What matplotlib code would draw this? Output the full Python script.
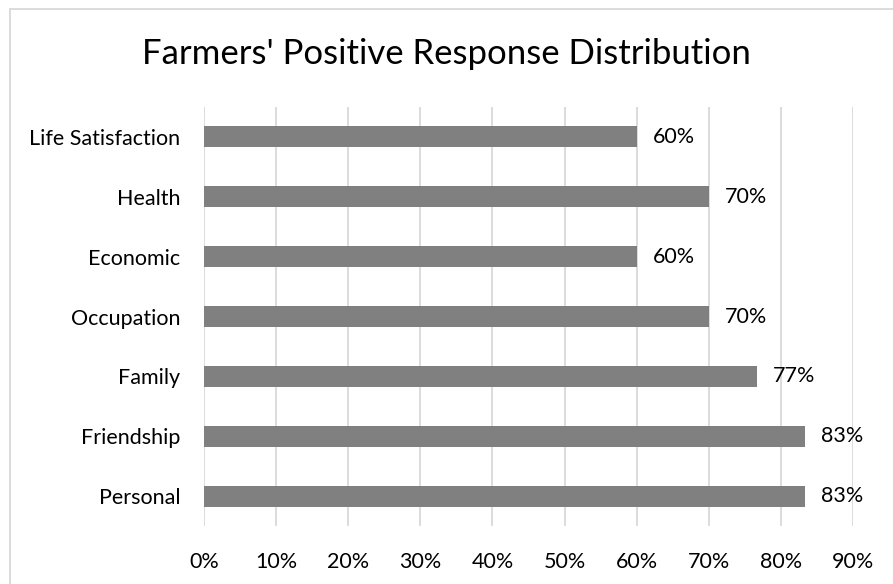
import numpy as np
import matplotlib.pyplot as plt
from matplotlib.patches import Rectangle
from matplotlib.ticker import FuncFormatter

categories = ['Personal', 'Friendship', 'Family', 'Occupation', 'Economic', 'Health', 'Life Satisfaction']
values = [83.3, 83.3, 76.7, 70.0, 60.0, 70.0, 60.0]
labels = ['83%', '83%', '77%', '70%', '60%', '70%', '60%']
xticks = np.arange(0, 91, 10)

plt.rcParams['font.family'] = ['Lato', 'DejaVu Sans']

fig = plt.figure(figsize=(8.93, 5.84), dpi=100)
fig.patches.append(Rectangle((10 / 893, -0.1), 1.2, 1 - 9 / 584 + 0.1, transform=fig.transFigure,
                             fill=False, edgecolor='#d9d9d9', linewidth=1.3))
ax = fig.add_axes([204 / 893, 1 - 526 / 584, 649 / 893, 419 / 584])

y = np.arange(len(categories))
ax.barh(y, values, height=0.35, color='#808080', zorder=3)
for yi, v, lab in zip(y, values, labels):
    ax.text(v + 2.2, yi, lab, va='center', ha='left', fontsize=15.5, color='#000000')

ax.set_xlim(0, 90)
ax.set_ylim(-0.5, len(categories) - 0.5)
ax.set_xticks(xticks)
ax.xaxis.set_major_formatter(FuncFormatter(lambda v, p: f'{v:.0f}%'))
ax.set_yticks(y)
ax.set_yticklabels(categories)
ax.grid(axis='x', color='#d9d9d9', linewidth=1.3, zorder=0)
for s in ax.spines.values():
    s.set_visible(False)
ax.tick_params(axis='both', length=0, labelsize=15.5, colors='#000000')
ax.tick_params(axis='x', pad=19)
ax.tick_params(axis='y', pad=17)

fig.text(0.5, 1 - 54 / 584, "Farmers' Positive Response Distribution", ha='center', va='center',
         fontsize=25, color='#000000')

fig.savefig('out.png', dpi=100)
